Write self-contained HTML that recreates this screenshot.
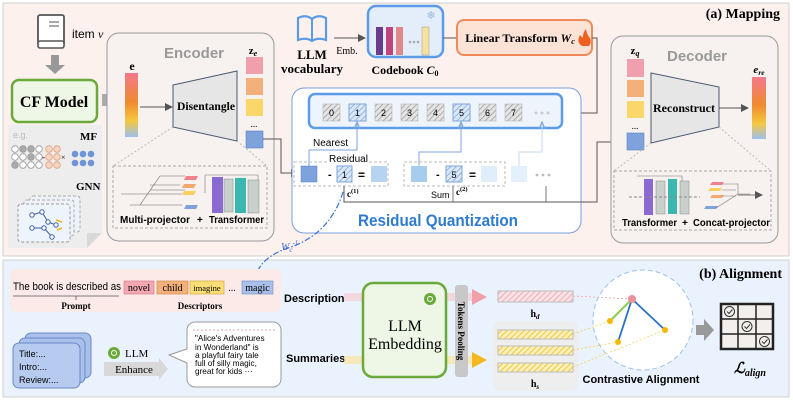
<!DOCTYPE html>
<html><head><meta charset="utf-8"><style>
html,body{margin:0;padding:0;background:#fff;}
svg{display:block;}
.sr{font-family:"Liberation Serif",serif;font-weight:bold;}
.ss{font-family:"Liberation Sans",sans-serif;}
</style></head><body>
<svg width="793" height="400" viewBox="0 0 793 400" xmlns="http://www.w3.org/2000/svg">
<defs>
<pattern id="hg" width="4" height="4" patternUnits="userSpaceOnUse" patternTransform="rotate(45)"><rect width="4" height="4" fill="#e4e4e4"/><line x1="0" y1="0" x2="0" y2="4" stroke="#9a9a9a" stroke-width="1.5"/></pattern>
<pattern id="hb" width="4" height="4" patternUnits="userSpaceOnUse" patternTransform="rotate(45)"><rect width="4" height="4" fill="#dbe8f8"/><line x1="0" y1="0" x2="0" y2="4" stroke="#7fa4da" stroke-width="1.5"/></pattern>
<pattern id="hp" width="4" height="4" patternUnits="userSpaceOnUse" patternTransform="rotate(45)"><rect width="4" height="4" fill="#fbe3e6"/><line x1="0" y1="0" x2="0" y2="4" stroke="#e8909c" stroke-width="1.3"/></pattern>
<pattern id="hy" width="4" height="4" patternUnits="userSpaceOnUse" patternTransform="rotate(45)"><rect width="4" height="4" fill="#fdf0b8"/><line x1="0" y1="0" x2="0" y2="4" stroke="#e8b820" stroke-width="1.5"/></pattern>
<linearGradient id="gr" x1="0" y1="0" x2="0" y2="1"><stop offset="0" stop-color="#f3788a"/><stop offset="0.45" stop-color="#ee8a30"/><stop offset="0.75" stop-color="#f5c840"/><stop offset="1" stop-color="#9cc0ee"/></linearGradient>
<marker id="ar" markerWidth="8" markerHeight="8" refX="7" refY="4" orient="auto" markerUnits="userSpaceOnUse"><path d="M0,0 L8,4 L0,8 Z" fill="#555"/></marker>
<marker id="ab" markerWidth="8" markerHeight="8" refX="7" refY="4" orient="auto" markerUnits="userSpaceOnUse"><path d="M0,1 L7,4 L0,7" fill="none" stroke="#7fa4da" stroke-width="1.2"/></marker>
<marker id="ad" markerWidth="8" markerHeight="8" refX="7" refY="4" orient="auto" markerUnits="userSpaceOnUse"><path d="M0,1 L7,4 L0,7" fill="none" stroke="#3a6fd0" stroke-width="1.3"/></marker>
</defs>

<rect x="3" y="3" width="786" height="253" fill="#fdf1ee" stroke="#d0d0d0"/>
<rect x="3" y="260" width="786" height="137" fill="#eaf3fd" stroke="#d0d0d0"/>
<text x="780" y="18" text-anchor="end" class="sr" font-size="14">(a) Mapping</text>
<text x="782" y="278" text-anchor="end" class="sr" font-size="14">(b) Alignment</text>

<rect x="38" y="15" width="26" height="30" rx="2" fill="#fff" stroke="#555" stroke-width="1.8"/>
<rect x="38" y="41" width="26" height="7" rx="2" fill="#fff" stroke="#555" stroke-width="1.6"/>
<line x1="49" y1="22" x2="59" y2="22" stroke="#555"/><line x1="49" y1="26" x2="59" y2="26" stroke="#555"/>
<text x="72" y="38" font-size="12" class="ss">item <tspan font-family="Liberation Serif" font-style="italic">v</tspan></text>
<path d="M51,55 h8 v10 h6 l-10,9 l-10,-9 h6 z" fill="#999"/>
<rect x="12" y="80" width="85" height="42" rx="7" fill="#eef6e6" stroke="#6aaa3a" stroke-width="2.5"/>
<text x="54" y="107" text-anchor="middle" class="sr" font-size="16">CF Model</text>
<path d="M102,94 h8 v-5 l10,11 l-10,11 v-5 h-8 z" fill="#aaa"/>

<path d="M8,125 h94 v108 l-15,15 h-79 z" fill="#ededed"/>
<path d="M87,248 l0,-15 l15,0" fill="#d8d8d8"/>
<text x="13" y="138" font-size="9" fill="#bbb" class="ss">e.g.</text>
<text x="80" y="140" class="sr" font-size="11">MF</text>
<text x="76" y="190" class="sr" font-size="11">GNN</text>
<g stroke="#999" stroke-width="0.8">
<circle cx="15" cy="149" r="3.3" fill="#fff"/><circle cx="23" cy="149" r="3.3" fill="#aaa"/><circle cx="31" cy="149" r="3.3" fill="#aaa"/><circle cx="39" cy="149" r="3.3" fill="#fff"/>
<circle cx="15" cy="157" r="3.3" fill="#fff"/><circle cx="23" cy="157" r="3.3" fill="#fff"/><circle cx="31" cy="157" r="3.3" fill="#aaa"/><circle cx="39" cy="157" r="3.3" fill="#fff"/>
<circle cx="15" cy="165" r="3.3" fill="#aaa"/><circle cx="23" cy="165" r="3.3" fill="#fff"/><circle cx="31" cy="165" r="3.3" fill="#fff"/><circle cx="39" cy="165" r="3.3" fill="#fff"/>
</g>
<g stroke="#e0a080" stroke-width="0.8" fill="#f8d4c4">
<circle cx="49" cy="149" r="3.3"/><circle cx="57" cy="149" r="3.3"/><circle cx="49" cy="157" r="3.3"/><circle cx="57" cy="157" r="3.3"/><circle cx="49" cy="165" r="3.3"/><circle cx="57" cy="165" r="3.3"/>
</g>
<text x="42" y="160" font-size="9">-</text><text x="61" y="160" font-size="8">×</text>
<g fill="#6f95d8"><circle cx="75" cy="154" r="3.3"/><circle cx="83" cy="154" r="3.3"/><circle cx="91" cy="154" r="3.3"/><circle cx="75" cy="163" r="3.3"/><circle cx="83" cy="163" r="3.3"/><circle cx="91" cy="163" r="3.3"/></g>
<rect x="30" y="196" width="50" height="36" rx="3" fill="#eef2fa" stroke="#aaa" stroke-dasharray="3,2"/>
<rect x="24" y="200" width="50" height="36" rx="3" fill="#eef2fa" stroke="#aaa" stroke-dasharray="3,2"/>
<rect x="18" y="204" width="52" height="38" rx="3" fill="#eef4fc" stroke="#999" stroke-dasharray="3,2"/>
<g stroke="#3a5fa0" stroke-width="1" fill="#fff"><path d="M32,215 L42,212 L48,222 L56,225 M32,228 L44,228 L52,237 M42,212 L48,222" fill="none"/>
<circle cx="32" cy="215" r="2.2"/><circle cx="42" cy="212" r="2.2"/><circle cx="48" cy="222" r="2.2"/><circle cx="56" cy="225" r="2.2"/><circle cx="32" cy="228" r="2.2"/><circle cx="44" cy="228" r="2.2"/><circle cx="52" cy="237" r="2.2"/></g>
<path d="M56,220 L62,222 M57,230 L62,228" stroke="#f0b020" stroke-width="1.5"/>

<rect x="107" y="33" width="167" height="208" rx="12" fill="#f7f2f0" stroke="#999"/>
<text x="194" y="58" text-anchor="middle" font-size="15" fill="#999" font-weight="bold" class="ss">Encoder</text>
<text x="132" y="70" text-anchor="middle" class="sr" font-size="12">e</text>
<rect x="125" y="73" width="13" height="64" fill="url(#gr)"/>
<line x1="140" y1="107" x2="172" y2="107" stroke="#555" marker-end="url(#ar)"/>
<path d="M173,85 L237,71 L237,141 L173,127 Z" fill="#e6e6e6" stroke="#4a5a70"/>
<text x="206" y="110" text-anchor="middle" class="sr" font-size="11.5" textLength="58" lengthAdjust="spacingAndGlyphs">Disentangle</text>
<text x="253" y="54" class="sr" font-size="11" text-anchor="middle">z<tspan font-size="8" dy="2" font-style="italic">e</tspan></text>
<rect x="246" y="57" width="17" height="17" fill="#f0a0ac"/>
<rect x="246" y="78" width="17" height="17" fill="#f4b07a"/>
<rect x="246" y="99" width="17" height="17" fill="#fbd668"/>
<text x="254" y="127" text-anchor="middle" font-size="9">...</text>
<rect x="246" y="131" width="17" height="17" fill="#7ea2dc" stroke="#5a80c0" stroke-width="0.6"/>
<path d="M173,127 L113,166 M237,141 L267,166" stroke="#bbb" stroke-dasharray="2,2"/>
<rect x="113" y="166" width="154" height="62" fill="none" stroke="#aaa" stroke-dasharray="3,2"/>
<g stroke="#666" stroke-width="0.6" fill="none">
<path d="M121,194 L182,194 M140,205 L160,176 L185,176 M150,185 L180,185 M150,190 L185,190 M130,205 L182,205"/></g>
<path d="M186,176 h12 l-2,4 h-12 z" fill="#f2808c"/><path d="M184,184 h12 l-2,4 h-12 z" fill="#f4a870"/>
<path d="M184,191 h12 l-2,4 h-12 z" fill="#fbd060"/><path d="M186,205 h12 l-2,4 h-12 z" fill="#7ea2dc"/>
<rect x="212" y="177" width="11" height="36" fill="#8a6ad0"/>
<rect x="224" y="179" width="9" height="33" fill="#c8d0cc" stroke="#888" stroke-width="0.5"/>
<rect x="235" y="178" width="11" height="35" fill="#3ab8b0"/>
<rect x="248" y="180" width="11" height="33" fill="#c8d0cc" stroke="#888" stroke-width="0.5"/>
<path d="M205,175 h53 v5 M205,175 v18" stroke="#777" stroke-width="0.6" fill="none"/>
<text x="120" y="223" font-size="10.5" font-weight="bold" class="ss" textLength="70" lengthAdjust="spacingAndGlyphs">Multi-projector</text>
<text x="197" y="223" font-size="10" font-weight="bold" class="ss">+</text>
<text x="209" y="223" font-size="10.5" font-weight="bold" class="ss" textLength="55" lengthAdjust="spacingAndGlyphs">Transformer</text>
<path d="M263,139 H281 V173 H298" stroke="#555" fill="none" marker-end="url(#ar)"/>

<path d="M298,18 q8,-4 14,1 q6,-5 14,-1 v22 q-8,-3 -14,1 q-6,-4 -14,-1 z" fill="none" stroke="#5b9be8" stroke-width="2.2"/>
<line x1="312" y1="19" x2="312" y2="41" stroke="#5b9be8" stroke-width="2"/>
<text x="312" y="59" text-anchor="middle" class="sr" font-size="13">LLM</text>
<text x="312" y="73" text-anchor="middle" class="sr" font-size="13">vocabulary</text>
<line x1="334" y1="38" x2="365" y2="38" stroke="#555" marker-end="url(#ar)"/>
<text x="347" y="54" text-anchor="middle" font-size="10" font-family="Liberation Serif">Emb.</text>
<rect x="368" y="6" width="75" height="51" rx="8" fill="#e4eefa" stroke="#5b9be8" stroke-width="2.5"/>
<rect x="376" y="27" width="7" height="28" fill="#6a3d8a"/><rect x="386" y="27" width="7" height="28" fill="#c0457a"/>
<rect x="396" y="27" width="7" height="28" fill="#e0888a"/>
<circle cx="410" cy="42" r="1.3" fill="#aaa"/><circle cx="414" cy="42" r="1.3" fill="#aaa"/><circle cx="418" cy="42" r="1.3" fill="#aaa"/>
<rect x="422" y="27" width="7" height="28" fill="#f5e2a0" stroke="#888" stroke-width="0.4"/>
<text x="431" y="19" text-anchor="middle" font-size="11" fill="#9ab8e0">❄</text>
<text x="405" y="74" text-anchor="middle" class="sr" font-size="12">Codebook <tspan font-style="italic">C</tspan><tspan font-size="8" dy="2">0</tspan></text>
<line x1="443" y1="38" x2="457" y2="38" stroke="#555"/>
<rect x="457" y="20" width="135" height="35" rx="7" fill="#fde3d6" stroke="#f08a5a" stroke-width="2"/>
<text x="520" y="42" text-anchor="middle" class="sr" font-size="12">Linear Transform <tspan font-style="italic">W</tspan><tspan font-size="8" dy="2" font-style="italic">c</tspan></text>
<path d="M582,46 q-6,-4 -2,-11 q2,3 3,2 q0,-5 3,-8 q1,6 4,9 q2,4 -1,8 z" fill="#f06020"/>
<path d="M592,38 H597 V113 H563" stroke="#555" fill="none" marker-end="url(#ar)"/>

<rect x="292" y="88" width="289" height="145" rx="12" fill="#fff" stroke="#7a9fd8"/>
<rect x="309" y="94" width="253" height="34" rx="6" fill="#eef4fc" stroke="#5b9be8" stroke-width="2.5"/>
<g font-size="9" class="ss" text-anchor="middle">
<rect x="323" y="104" width="17" height="17" fill="url(#hg)" stroke="#aaa" stroke-width="0.5"/><text x="331.5" y="116">0</text>
<rect x="349" y="104" width="17" height="17" fill="url(#hb)" stroke="#7fa4da"/><text x="357.5" y="116">1</text>
<rect x="375" y="104" width="17" height="17" fill="url(#hg)" stroke="#aaa" stroke-width="0.5"/><text x="383.5" y="116">2</text>
<rect x="401" y="104" width="17" height="17" fill="url(#hg)" stroke="#aaa" stroke-width="0.5"/><text x="409.5" y="116">3</text>
<rect x="427" y="104" width="17" height="17" fill="url(#hg)" stroke="#aaa" stroke-width="0.5"/><text x="435.5" y="116">4</text>
<rect x="453" y="104" width="17" height="17" fill="url(#hb)" stroke="#7fa4da"/><text x="461.5" y="116">5</text>
<rect x="479" y="104" width="17" height="17" fill="url(#hg)" stroke="#aaa" stroke-width="0.5"/><text x="487.5" y="116">6</text>
<rect x="505" y="104" width="17" height="17" fill="url(#hg)" stroke="#aaa" stroke-width="0.5"/><text x="513.5" y="116">7</text>
</g>
<circle cx="536" cy="113" r="1.5" fill="#ccc"/><circle cx="542" cy="113" r="1.5" fill="#ccc"/><circle cx="548" cy="113" r="1.5" fill="#ccc"/>
<text x="313" y="146" font-size="10" class="ss">Nearest</text>
<path d="M309,167 V150 H357 V122" stroke="#7fa4da" fill="none" marker-end="url(#ab)"/>
<path d="M419,167 V152 H461 V122" stroke="#7fa4da" fill="none" marker-end="url(#ab)"/>
<path d="M519,167 V152 H542 V122" stroke="#c5d8f2" fill="none" marker-end="url(#ab)"/>
<rect x="294" y="162" width="94" height="24" fill="none" stroke="#bbb" stroke-dasharray="3,2"/>
<rect x="328" y="154" width="40" height="9" fill="#fff"/>
<text x="329" y="162" font-size="10" class="ss">Residual</text>
<rect x="301" y="166" width="16" height="16" fill="#7ea2dc" stroke="#5a80c0" stroke-width="0.5"/>
<text x="328" y="178" font-size="11" font-weight="bold" class="ss">-</text>
<rect x="337" y="166" width="15" height="16" fill="url(#hb)" stroke="#7fa4da"/><text x="344.5" y="178" font-size="9" text-anchor="middle" class="ss">1</text>
<text x="358" y="179" font-size="12" font-weight="bold" class="ss">=</text>
<rect x="371" y="166" width="16" height="16" fill="#b6d4f2"/>
<text x="347" y="197" class="sr" font-size="9">c<tspan font-size="6.5" dy="-4">(1)</tspan></text>
<rect x="404" y="162" width="101" height="24" fill="none" stroke="#bbb" stroke-dasharray="3,2"/>
<rect x="411" y="166" width="16" height="16" fill="#a8ccee"/>
<text x="436" y="178" font-size="11" font-weight="bold" class="ss">-</text>
<rect x="446" y="166" width="16" height="16" fill="url(#hb)" stroke="#7fa4da"/><text x="454" y="178" font-size="9" text-anchor="middle" class="ss">5</text>
<text x="469" y="179" font-size="12" font-weight="bold" class="ss">=</text>
<rect x="481" y="166" width="16" height="16" fill="#e0eefc"/>
<rect x="511" y="166" width="16" height="16" fill="#e4f0fc"/>
<circle cx="537" cy="175" r="1.4" fill="#bbb"/><circle cx="543" cy="175" r="1.4" fill="#bbb"/><circle cx="549" cy="175" r="1.4" fill="#bbb"/>
<text x="456" y="195" class="sr" font-size="9">c<tspan font-size="6.5" dy="-4">(2)</tspan></text>
<text x="431" y="198" font-size="9" class="ss">Sum</text>
<path d="M344,186 V202 H597 V142 H624" stroke="#555" fill="none" marker-end="url(#ar)"/>
<line x1="453" y1="186" x2="453" y2="202" stroke="#555" stroke-width="0.8"/>
<line x1="546" y1="186" x2="546" y2="202" stroke="#555" stroke-width="0.8"/>
<text x="358" y="226" font-size="16.5" font-weight="bold" fill="#2e7bcf" class="ss" textLength="160" lengthAdjust="spacingAndGlyphs">Residual Quantization</text>
<path d="M343,192 C336,215 320,238 288,248 C268,255 258,265 256,277" stroke="#3a6fd0" stroke-width="1.2" fill="none" stroke-dasharray="6,2,1.5,2" marker-end="url(#ad)"/>
<text x="281" y="250" font-size="10" font-style="italic" fill="#3a6fd0" font-family="Liberation Serif">W<tspan font-size="7" dy="2">c</tspan><tspan font-size="7" dy="-7">-1</tspan></text>

<rect x="611" y="36" width="167" height="207" rx="12" fill="#f7f2f0" stroke="#999"/>
<text x="697" y="61" text-anchor="middle" font-size="15" fill="#999" font-weight="bold" class="ss">Decoder</text>
<text x="635" y="54" class="sr" font-size="11" text-anchor="middle">z<tspan font-size="8" dy="2" font-style="italic">q</tspan></text>
<rect x="627" y="59" width="17" height="18" fill="#f0a0ac"/>
<rect x="627" y="80" width="17" height="17" fill="#f4b07a"/>
<rect x="627" y="101" width="17" height="17" fill="#fbd668"/>
<text x="635" y="129" text-anchor="middle" font-size="9">...</text>
<rect x="627" y="133" width="17" height="17" fill="#7ea2dc" stroke="#5a80c0" stroke-width="0.6"/>
<path d="M651,73 L719,87 L719,127 L651,143 Z" fill="#e6e6e6" stroke="#4a5a70"/>
<text x="684" y="112" text-anchor="middle" class="sr" font-size="11.5" textLength="62" lengthAdjust="spacingAndGlyphs">Reconstruct</text>
<line x1="719" y1="108" x2="748" y2="108" stroke="#555" marker-end="url(#ar)"/>
<text x="759" y="73" text-anchor="middle" class="sr" font-size="11" font-style="italic">e<tspan font-size="7.5" dy="2">re</tspan></text>
<rect x="752" y="77" width="14" height="62" fill="url(#gr)"/>
<path d="M651,143 L614,171 M719,127 L771,171" stroke="#bbb" stroke-dasharray="2,2"/>
<rect x="614" y="171" width="157" height="59" fill="none" stroke="#aaa" stroke-dasharray="3,2"/>
<rect x="644" y="179" width="9" height="36" fill="#8a6ad0"/>
<rect x="656" y="181" width="9" height="33" fill="#c8d0cc" stroke="#888" stroke-width="0.5"/>
<rect x="668" y="179" width="9" height="35" fill="#3ab8b0"/>
<rect x="680" y="181" width="9" height="33" fill="#c8d0cc" stroke="#888" stroke-width="0.5"/>
<path d="M629,197 H700" stroke="#888" stroke-dasharray="3,2"/>
<path d="M637,176 h45 v5" stroke="#777" stroke-width="0.6" fill="none"/>
<path d="M712,182 h12 l-2,3 h-12 z" fill="#f2808c"/><path d="M710,188 h12 l-2,3 h-12 z" fill="#fbd060"/>
<path d="M712,195 h12 l-2,3 h-12 z" fill="#f4a870"/><path d="M706,206 h12 l-2,3 h-12 z" fill="#7ea2dc"/>
<path d="M722,184 h16 v10 h12 M722,190 h14 M722,196 h14 M716,208 L738,194" stroke="#777" stroke-width="0.6" fill="none"/>
<line x1="738" y1="195" x2="762" y2="195" stroke="#777" marker-end="url(#ar)"/>
<text x="622" y="226" font-size="10.5" font-weight="bold" class="ss" textLength="55" lengthAdjust="spacingAndGlyphs">Transformer</text>
<text x="682" y="226" font-size="10" font-weight="bold" class="ss">+</text>
<text x="693" y="226" font-size="10.5" font-weight="bold" class="ss" textLength="77" lengthAdjust="spacingAndGlyphs">Concat-projector</text>

<rect x="10" y="269" width="271" height="43" rx="6" fill="#fbeae8"/>
<text x="13" y="290" font-size="11" class="ss" textLength="108" lengthAdjust="spacingAndGlyphs">The book is described as</text>
<g font-size="10" font-family="Liberation Serif" text-anchor="middle">
<rect x="124" y="281" width="30" height="13" fill="#f3a8b2" stroke="#d07080" stroke-width="0.6"/><text x="139" y="291">novel</text>
<rect x="157" y="281" width="31" height="13" fill="#f4b07a" stroke="#c88040" stroke-width="0.6"/><text x="172.5" y="291">child</text>
<rect x="190" y="281" width="34" height="13" fill="#fbde78" stroke="#c8a030" stroke-width="0.6"/><text x="207" y="291" font-size="8.5">imagine</text>
<text x="232" y="291">...</text>
<rect x="242" y="281" width="31" height="13" fill="#a8c0ea" stroke="#6a8ac8" stroke-width="0.6"/><text x="257.5" y="291">magic</text>
</g>
<path d="M13,296 H119 M76,296 V300" stroke="#555" stroke-width="0.8"/>
<text x="76" y="309" text-anchor="middle" class="sr" font-size="9">Prompt</text>
<text x="200" y="309" text-anchor="middle" class="sr" font-size="9">Descriptors</text>

<rect x="25" y="333" width="66" height="45" rx="6" fill="#a9c0ea" stroke="#6a88c8"/>
<rect x="19" y="338" width="66" height="45" rx="6" fill="#a9c0ea" stroke="#6a88c8"/>
<rect x="13" y="343" width="67" height="45" rx="6" fill="#b6cbef" stroke="#6a88c8"/>
<text x="19" y="357" font-size="9" class="ss">Title:...</text>
<text x="19" y="370" font-size="9" class="ss">Intro:...</text>
<text x="19" y="383" font-size="9" class="ss">Review:...</text>
<circle cx="114" cy="353" r="6" fill="#6aaa3a"/><circle cx="114" cy="353" r="2.5" fill="none" stroke="#fff"/>
<text x="125" y="357" font-size="11" font-family="Liberation Serif">LLM</text>
<path d="M104,362 h55 v-4 l9,11 l-9,11 v-4 h-55 z" fill="#d8d8d8"/>
<text x="134" y="373" text-anchor="middle" font-size="11" font-family="Liberation Serif">Enhance</text>
<path d="M195,322 h78 a8,8 0 0 1 8,8 v49 a8,8 0 0 1 -8,8 h-78 a8,8 0 0 1 -8,-8 v-16 l-18,-8 l18,-6 v-19 a8,8 0 0 1 8,-8 z" fill="#fff" stroke="#999"/>
<line x1="193" y1="330" x2="277" y2="330" stroke="#e8a0b0" stroke-dasharray="2,2"/>
<g font-size="8.2" class="ss"><text x="195" y="341">"Alice's Adventures</text><text x="195" y="350">in Wonderland" is</text><text x="195" y="358">a playful fairy tale</text><text x="195" y="366">full of silly magic,</text><text x="195" y="374">great for kids ···</text></g>

<text x="284" y="302" font-size="11" font-weight="bold" class="ss">Description</text>
<text x="286" y="362" font-size="11" font-weight="bold" class="ss">Summaries</text>
<rect x="344" y="293" width="132" height="8" fill="#f6c4ca" opacity="0.6"/>
<path d="M472,289 L487,297 L472,305 Z" fill="#f0a0aa"/>
<rect x="344" y="356" width="132" height="8" fill="#fbe2a0" opacity="0.7"/>
<path d="M472,352 L487,360 L472,368 Z" fill="#f5b820"/>
<rect x="363" y="283" width="83" height="94" rx="10" fill="#eef7e6" stroke="#6aaa3a" stroke-width="2.5"/>
<circle cx="430" cy="299" r="6" fill="#6aaa3a"/><circle cx="430" cy="299" r="2.5" fill="none" stroke="#fff"/>
<text x="405" y="331" text-anchor="middle" font-size="16" font-family="Liberation Serif">LLM</text>
<text x="405" y="349" text-anchor="middle" font-size="16" font-family="Liberation Serif">Embedding</text>
<rect x="455" y="285" width="13" height="92" rx="3" fill="#c8c8c8"/>
<text transform="translate(458,331) rotate(90)" text-anchor="middle" font-size="9" font-family="Liberation Serif" font-weight="bold">Tokens Pooling</text>
<rect x="498" y="291" width="75" height="11" fill="url(#hp)" stroke="#bbb"/>
<text x="535" y="317" text-anchor="middle" class="sr" font-size="10">h<tspan font-size="7" dy="2" font-style="italic">d</tspan></text>
<rect x="493" y="321" width="85" height="70" rx="8" fill="#eeeeee"/>
<rect x="498" y="330" width="75" height="9" fill="url(#hy)" stroke="#bbb"/>
<rect x="498" y="346" width="75" height="9" fill="url(#hy)" stroke="#bbb"/>
<rect x="498" y="363" width="75" height="9" fill="url(#hy)" stroke="#bbb"/>
<text x="535" y="387" text-anchor="middle" class="sr" font-size="10">h<tspan font-size="7" dy="2" font-style="italic">s</tspan></text>

<circle cx="643" cy="320" r="50" fill="#fff" stroke="#9cc0ee" stroke-dasharray="5,3"/>
<g stroke-width="0.8" stroke-dasharray="2,2"><line x1="573" y1="296" x2="632" y2="299" stroke="#f0a0aa"/>
<line x1="573" y1="334" x2="610" y2="321" stroke="#f5d060"/><line x1="573" y1="350" x2="618" y2="342" stroke="#f5d060"/><line x1="573" y1="367" x2="665" y2="330" stroke="#f5d060"/></g>
<line x1="632" y1="299" x2="610" y2="321" stroke="#8ccc50" stroke-width="2"/>
<line x1="632" y1="299" x2="618" y2="342" stroke="#2a70c0" stroke-width="1.8"/>
<line x1="632" y1="299" x2="665" y2="330" stroke="#2a70c0" stroke-width="1.8"/>
<circle cx="632" cy="299" r="4" fill="#f0909c"/>
<circle cx="610" cy="321" r="3" fill="#f5b800"/><circle cx="618" cy="342" r="3" fill="#f5b800"/><circle cx="665" cy="330" r="3" fill="#f5b800"/>
<text x="641" y="383" text-anchor="middle" font-size="11" font-weight="bold" class="ss">Contrastive Alignment</text>
<path d="M696,325 h8 v-6 l10,11 l-10,11 v-6 h-8 z" fill="#999"/>
<rect x="721" y="304" width="52" height="45" stroke="#222" stroke-width="2.5" fill="#f2efec"/>
<g stroke="#222" stroke-width="1.5"><line x1="738" y1="304" x2="738" y2="349"/><line x1="756" y1="304" x2="756" y2="349"/><line x1="721" y1="319" x2="773" y2="319"/><line x1="721" y1="334" x2="773" y2="334"/></g>
<g fill="none" stroke="#333" stroke-width="1"><circle cx="729.5" cy="311.5" r="5"/><circle cx="747" cy="326.5" r="5"/><circle cx="764.5" cy="341.5" r="5"/>
<path d="M727,311.5 l2,2 l3.5,-4 M744.5,326.5 l2,2 l3.5,-4 M762,341.5 l2,2 l3.5,-4"/></g>
<text x="734" y="373" font-size="15" font-family="Liberation Serif" font-style="italic" font-weight="bold">ℒ<tspan font-size="10" dy="3">align</tspan></text>
</svg>
</body></html>
